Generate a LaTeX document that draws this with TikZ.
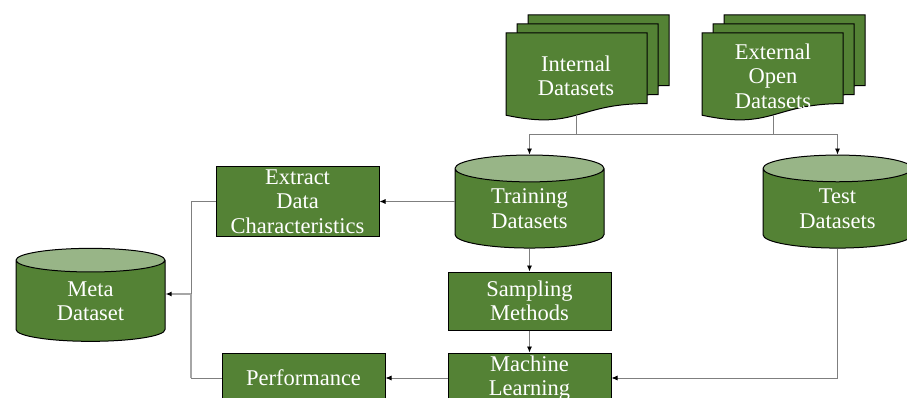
\documentclass[tikz,border=0pt]{standalone}
\usepackage{fontspec}
\setmainfont{Liberation Serif}
\usetikzlibrary{shapes.geometric,arrows.meta}
\definecolor{leaf}{HTML}{548235}
\definecolor{leaftop}{HTML}{98B587}
\definecolor{wire}{HTML}{7F7F7F}
\tikzset{
  lbl/.style={text=white,align=center,font=\fontsize{22.5}{24.5}\selectfont},
  box/.style={lbl,draw=black,fill=leaf,line width=1pt,minimum width=163pt,minimum height=58pt,inner sep=0pt},
  drum/.style={lbl,draw=black,line width=1pt,shape=cylinder,shape border rotate=90,aspect=0.35,
    minimum width=149pt,minimum height=93pt,inner sep=0pt,
    cylinder uses custom fill,cylinder body fill=leaf,cylinder end fill=leaftop},
  doc/.style={draw=black,fill=leaf,line width=1pt},
  link/.style={draw=wire,line width=0.8pt},
  fatlink/.style={draw=gray!70,line width=1.6pt},
}
\begin{document}
\begin{tikzpicture}[x=1pt,y=-1pt,>={Latex[length=6pt,width=5pt,black]}]
    \clip (0,0) rectangle (907,398);
    \fill[white] (0,0) rectangle (907,398);
    % stacked documents
    \foreach \sx in {506,702}
        \foreach \d in {22,11,0}
            {
                \draw[doc,shift={(\sx+\d,33-0.82*\d)}] (0,0)--(141,0)--(141,70.6)
                    .. controls (70.5,70.6) and (70.5,97.4) .. (0,82.2)--cycle;
            }
    \node[lbl] (intdoc) at (576,76) {Internal\\Datasets};
    \node[lbl] (extdoc) at (773,76) {External\\Open\\Datasets};
    \coordinate (intbot) at (576,115);
    \coordinate (extbot) at (773,115);
    \coordinate (split) at (576,134);
    % stores
    \node[drum] (train) at (529.5,208.5) {Training\\Datasets};
    \node[drum] (test) at (837.5,208.5) {Test\\Datasets};
    \node[drum] (meta) at (90.5,301) {Meta\\Dataset};
    % steps
    \node[box,minimum height=70pt] (extract) at (297.5,201.5) {Extract\\Data\\Characteristics};
    \node[box] (sample) at (529.5,301) {Sampling\\Methods};
    \node[box,minimum height=50pt] (learn) at (529.5,378) {Machine\\Learning};
    \node[box,minimum height=50pt] (perf) at (303.5,378) {Performance};
    \coordinate (join) at (191,294);
    % links
    \draw[link] (intbot) -- (split);
    \draw[link] (extbot) -- (extbot |- split);
    \draw[link,->] (split) -| (train.north);
    \draw[link,->] (split) -| (test.north);
    \draw[link,->] (train.west |- extract) -- (extract);
    \draw[link,->] (train.south) -- (sample);
    \draw[link,->] (sample) -- (learn);
    \draw[link,->] (test.south) |- (learn.east);
    \draw[link,->] (learn) -- (perf);
    \draw[link] (extract.west) -| (join);
    \draw[link] (perf.west) -- (perf.west -| join);
    \draw[fatlink] (perf.west -| join) -- (join);
    \draw[fatlink,->] (join) -- (meta.east |- join);
\end{tikzpicture}
\end{document}
